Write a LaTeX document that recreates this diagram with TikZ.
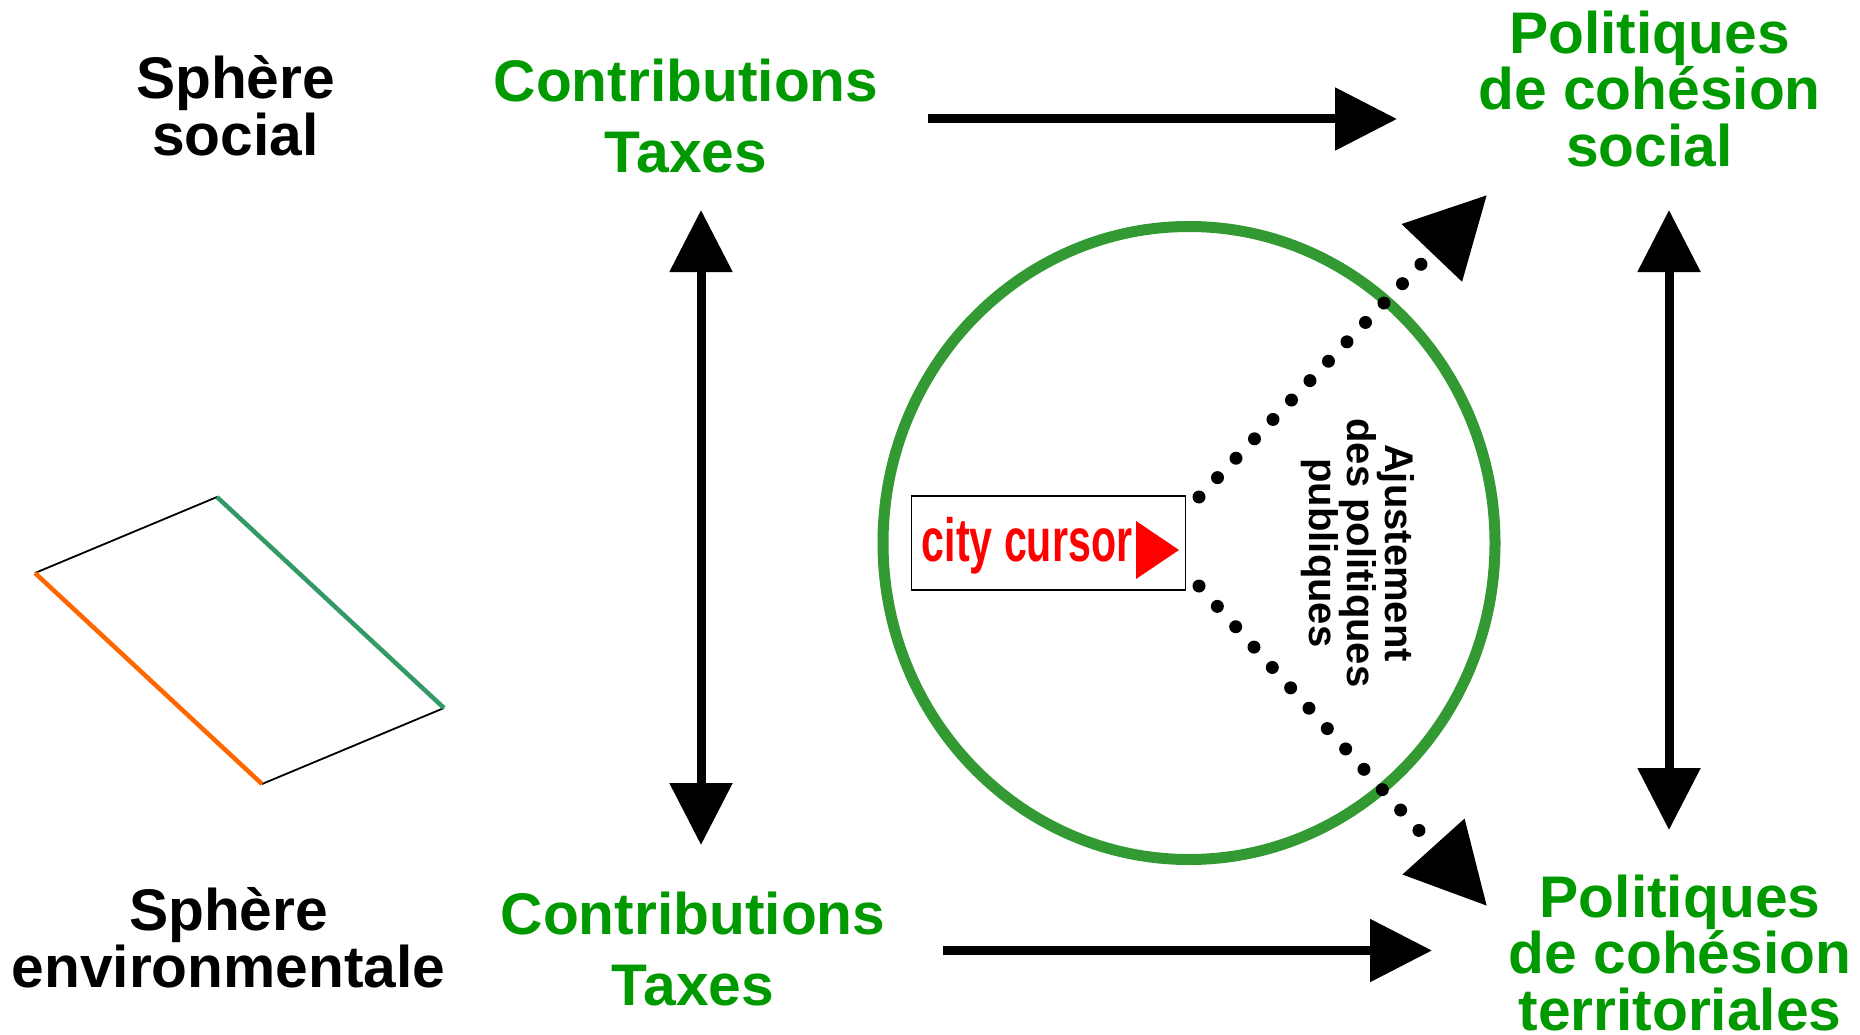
\documentclass[tikz,border=0pt]{standalone}
\usepackage{fontspec}
\setmainfont{Liberation Sans}
\usetikzlibrary{arrows.meta, shapes.geometric}
\definecolor{polgreen}{HTML}{009900}
\definecolor{ringgreen}{HTML}{339933}
\definecolor{edgegreen}{HTML}{339966}
\definecolor{edgeorange}{HTML}{FF6600}
\tikzset{
	bigtxt/.style={align=center, inner sep=0pt, font=\fontsize{58.7}{56.7}\selectfont\bfseries},
	widetxt/.style={bigtxt, font=\fontsize{58.7}{71}\selectfont\bfseries, text=polgreen},
	polbox/.style={bigtxt, text=polgreen},
	bigarrow/.style={line width=9pt, -{Triangle[length=62pt,width=61pt]}},
	bothway/.style={line width=9pt, {Triangle[length=62pt,width=61pt]}-{Triangle[length=62pt,width=61pt]}},
	dotarrow/.style={line width=13pt, line cap=round, dash pattern=on 0pt off #1, -{Triangle[length=80pt,width=80pt]}},
}
\begin{document}
\begin{tikzpicture}[x=1pt, y=-1pt]
\useasboundingbox (0,0) rectangle (1860,1035);
% texts
\node[bigtxt] (social) at (235.5,106) {Sphère\\social};
\node[bigtxt] (envir) at (228.5,938) {Sphère\\environmentale};
\node[widetxt] (contribtop) at (686,116) {Contributions\\Taxes};
\node[widetxt] (contribbot) at (693,949) {Contributions\\Taxes};
\node[polbox] (poltop) at (1649.5,89) {Politiques\\de cohésion\\social};
\node[polbox] (polbot) at (1680,953) {Politiques\\de cohésion\\territoriales};
% sheet on the left
\coordinate (sa) at (35,573);
\coordinate (sb) at (217,497);
\coordinate (sc) at (444,708);
\coordinate (sd) at (262,784);
\draw[line width=1.8pt] (sa) -- (sb);
\draw[line width=1.8pt] (sd) -- (sc);
\draw[line width=4.5pt, edgegreen] (sb) -- (sc);
\draw[line width=4.5pt, edgeorange] (sa) -- (sd);
% ring and cursor
\node[draw=ringgreen, line width=11pt, ellipse, minimum width=612pt, minimum height=633pt, inner sep=0pt] (ring) at (1189,543) {};
\node[draw, line width=1.5pt, minimum width=274pt, minimum height=94pt, inner sep=0pt] (cursorbox) at (1048.5,543) {};
\node[inner sep=0pt, text=red, font=\fontsize{61}{61}\selectfont\bfseries] (cursortxt) at (1027,546) {\scalebox{.675}[1]{city cursor}};
\fill[red] (1136,521) -- (1179,550) -- (1136,579) -- cycle;
\node[rotate=-90, align=center, inner sep=0pt, font=\fontsize{40}{38}\selectfont\bfseries] (adjust) at (1358,553) {Ajustement\\des politiques\\publiques};
% arrows
\coordinate (ta) at (928,119);
\coordinate (tb) at (1397,119);
\coordinate (ba) at (943,950.5);
\coordinate (bb) at (1432,950.5);
\coordinate (la) at (701,210);
\coordinate (lb) at (701,845);
\coordinate (ra) at (1669,210);
\coordinate (rb) at (1669,830);
\coordinate (da) at (1199,497);
\coordinate (db) at (1487,195);
\coordinate (ea) at (1199,586);
\coordinate (eb) at (1487,906);
\draw[bigarrow] (ta) -- (tb);
\draw[bigarrow] (ba) -- (bb);
\draw[bothway] (la) -- (lb);
\draw[bothway] (ra) -- (rb);
\draw[dotarrow=26.8pt] (da) -- (db);
\draw[dotarrow=27.4pt] (ea) -- (eb);
\end{tikzpicture}
\end{document}
